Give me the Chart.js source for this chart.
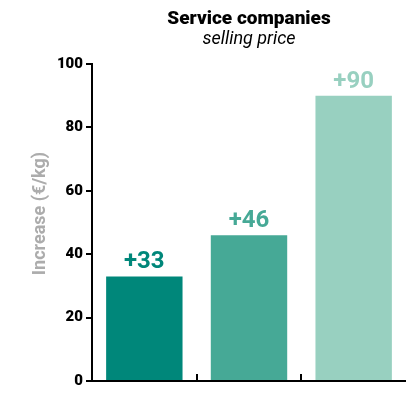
<!DOCTYPE html>
<html>
<head>
<meta charset="utf-8">
<script src="https://cdn.jsdelivr.net/npm/chart.js@4"></script>
<style>
  html, body { margin: 0; padding: 0; background: #fff; }
  #wrap { width: 406px; height: 393px; }
</style>
</head>
<body>
<div id="wrap"><canvas id="myChart"></canvas></div>
<script>
// chart data
var categories = ['A', 'B', 'C'];
var increase = [33, 46, 90];
var barColors = ['#00877a', '#46a996', '#98d0c0'];
var yTicks = [0, 20, 40, 60, 80, 100];
var titleText = 'Service companies';
var subtitleText = 'selling price';
var yTitleText = 'Increase (€/kg)';

// titles, value labels above each bar + little ticks between categories
var extras = {
  id: 'extras',
  afterDatasetsDraw: function (chart) {
    var ctx = chart.ctx;
    var area = chart.chartArea;
    var meta = chart.getDatasetMeta(0);
    ctx.save();

    // value labels
    ctx.font = 'bold 24px Roboto';
    ctx.textAlign = 'center';
    ctx.textBaseline = 'alphabetic';
    meta.data.forEach(function (bar, i) {
      ctx.fillStyle = barColors[i];
      ctx.fillText('+' + increase[i], bar.x, bar.y - 8);
    });

    // small ticks between categories
    var xs = chart.scales.x;
    ctx.strokeStyle = '#000';
    ctx.lineWidth = 2;
    for (var i = 1; i < categories.length; i++) {
      var x = Math.round((xs.getPixelForValue(i - 1) + xs.getPixelForValue(i)) / 2);
      ctx.beginPath();
      ctx.moveTo(x, area.bottom);
      ctx.lineTo(x, area.bottom - 7);
      ctx.stroke();
    }

    // title + subtitle centred over the plot
    var cx = (area.left + area.right) / 2;
    ctx.fillStyle = '#000';
    ctx.font = '900 19px Roboto';
    ctx.fillText(titleText, cx, 24);
    ctx.font = 'italic 18px Roboto';
    ctx.fillText(subtitleText, cx, 44);

    // y axis title
    ctx.translate(40, (area.top + area.bottom) / 2 - 9);
    ctx.rotate(-Math.PI / 2);
    ctx.textBaseline = 'middle';
    ctx.fillStyle = '#acacac';
    ctx.font = 'bold 18px Roboto';
    ctx.fillText(yTitleText, 0, 0);
    ctx.restore();
  }
};

var ctx = document.getElementById('myChart').getContext('2d');
var chart = new Chart(ctx, {
  type: 'bar',
  data: {
    labels: categories,
    datasets: [{
      data: increase,
      backgroundColor: barColors,
      barPercentage: 0.73,
      categoryPercentage: 1.0
    }]
  },
  options: {
    responsive: true,
    maintainAspectRatio: false,
    animation: false,
    layout: { padding: { left: 0, right: 0, top: 64, bottom: 12 } },
    plugins: {
      legend: { display: false },
      tooltip: { enabled: false },
      title: { display: false }
    },
    scales: {
      x: {
        ticks: { display: false },
        grid: { display: false },
        border: { color: '#000', width: 2 },
        afterFit: function (scale) { scale.height = 0; }
      },
      y: {
        min: 0,
        max: 100,
        afterBuildTicks: function (scale) {
          scale.ticks = yTicks.map(function (v) { return { value: v }; });
        },
        ticks: {
          color: '#000',
          padding: 3,
          font: { family: 'Roboto', size: 15, weight: '900' }
        },
        grid: { drawOnChartArea: false, tickLength: 6, color: '#000', lineWidth: 2 },
        border: { color: '#000', width: 2 },
        afterFit: function (scale) { scale.width = 92; }
      }
    }
  },
  plugins: [extras]
});
</script>
</body>
</html>
